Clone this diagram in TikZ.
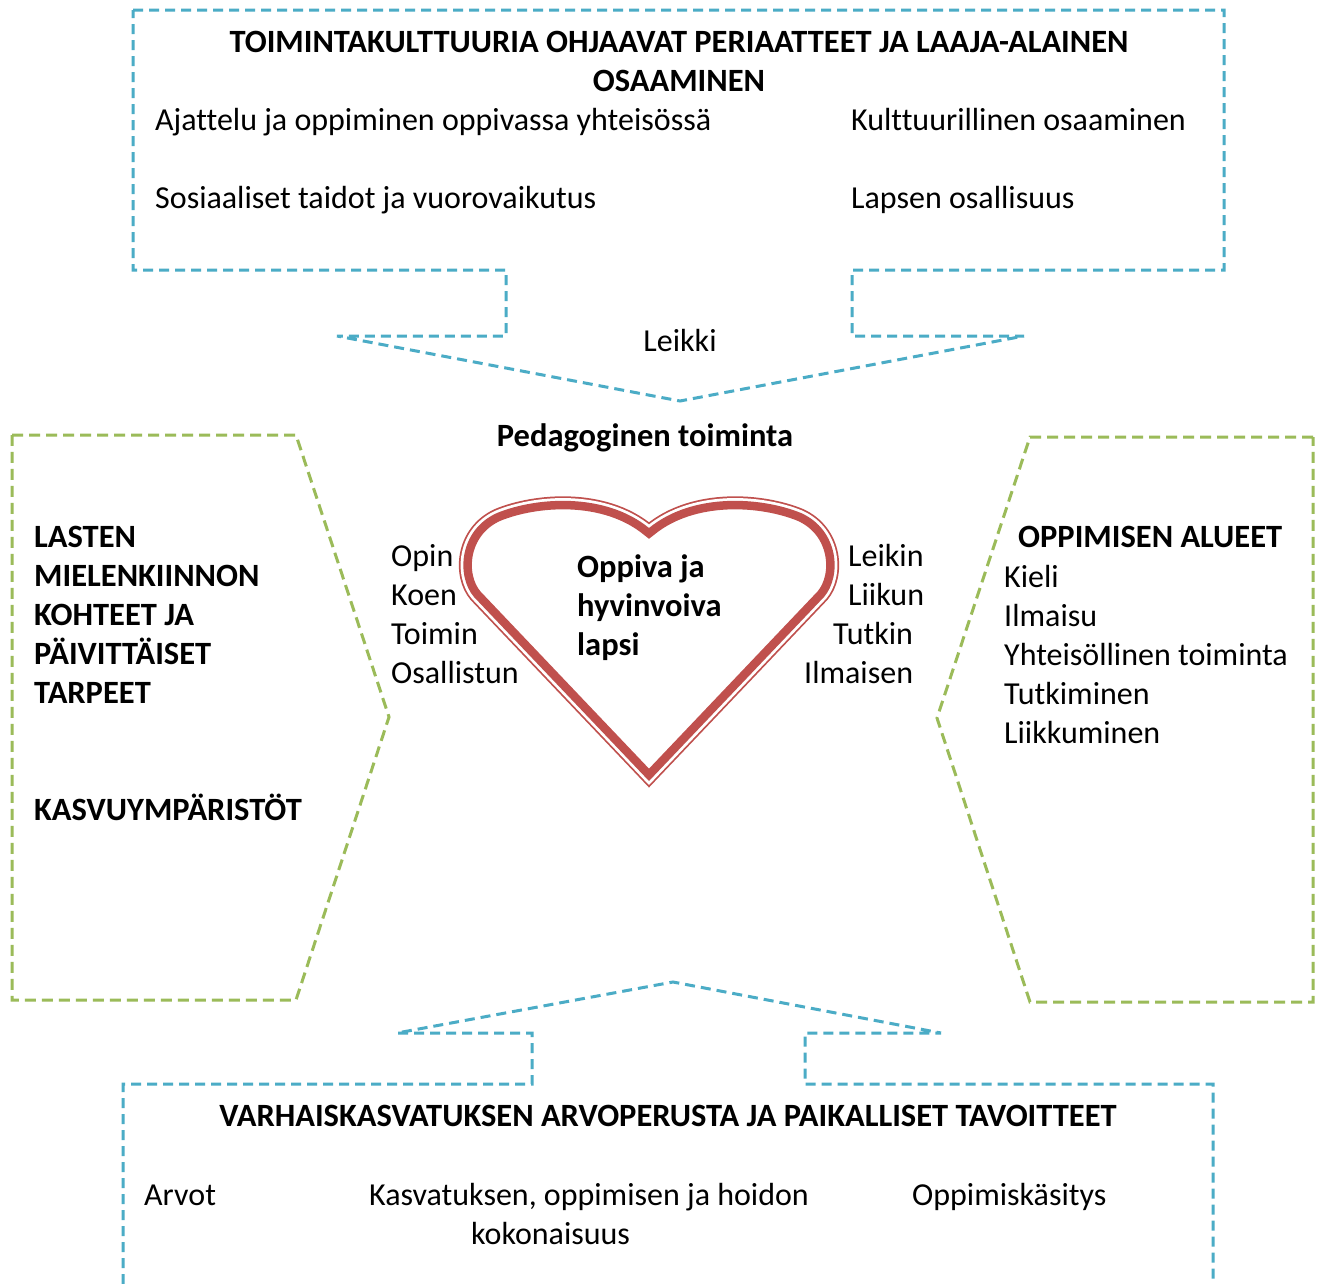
\documentclass[tikz,border=0pt]{standalone}
\usepackage{fontspec}
\setmainfont{Carlito}[Ligatures=NoCommon]
\usepackage{tikz}

\definecolor{aqua}{HTML}{4BACC6}
\definecolor{olive}{HTML}{9BBB59}
\definecolor{heartred}{HTML}{C0504D}

\tikzset{
  bluebox/.style={draw=aqua,line width=3pt,dash pattern=on 10pt off 6pt},
  greenbox/.style={draw=olive,line width=3pt,dash pattern=on 11pt off 6pt},
  txt/.style={anchor=west,text height=21pt,text depth=0pt},
  bold/.style={font=\fontsize{32.5}{39}\selectfont\bfseries}
}

\newcommand{\heartpath}{(649,781) -- (474,597) .. controls (456,576) and (459,530) .. (497,513)
  .. controls (536,497) and (605,492) .. (649,528) .. controls (693,492) and (762,497) .. (801,513)
  .. controls (839,530) and (842,576) .. (824,597) -- cycle}

\begin{document}
\begin{tikzpicture}[x=1pt,y=-1pt,every node/.style={inner sep=0pt,font=\fontsize{32}{39}\selectfont}]
\clip (0,0) rectangle (1317,1283);
\fill[white] (0,0) rectangle (1317,1283);

\draw[bluebox] (133,10) -- (1224,10) -- (1224,270) -- (852,270) -- (852,336) -- (1024,336)
  -- (680,401) -- (337,336) -- (506,336) -- (506,270) -- (133,270) -- cycle;
\draw[bluebox] (123,1300) -- (123,1084) -- (532,1084) -- (532,1033) -- (397,1033) -- (673,982)
  -- (941,1033) -- (805,1033) -- (805,1084) -- (1213,1084) -- (1213,1300);

\draw[greenbox] (12,435) -- (296,435) -- (389,717) -- (296,1000) -- (12,1000) -- cycle;
\draw[greenbox] (1313,437) -- (1030,437) -- (937,718) -- (1030,1002) -- (1313,1002) -- cycle;

% heart
\draw[heartred,line width=9pt,line join=miter] \heartpath;
\draw[white,line width=5.5pt,line join=miter] \heartpath;
\begin{scope}
\clip \heartpath;
\draw[heartred,line width=17pt,line join=miter] \heartpath;
\end{scope}

\node[bold,align=center] (title) at (679,61) {TOIMINTAKULTTUURIA OHJAAVAT PERIAATTEET JA LAAJA-ALAINEN\\OSAAMINEN};
\node[txt] (ajattelu) at (155,120) {Ajattelu ja oppiminen oppivassa yhteisössä};
\node[txt] (kulttuuri) at (851,120) {Kulttuurillinen osaaminen};
\node[txt] (sosiaaliset) at (155,198) {Sosiaaliset taidot ja vuorovaikutus};
\node[txt] (osallisuus) at (851,198) {Lapsen osallisuus};

\node (leikki) at (680,340) {Leikki};
\node[bold] (pedagoginen) at (645,438) {Pedagoginen toiminta};

\node[txt] (opin) at (391,556) {Opin};
\node[txt] (koen) at (391,595) {Koen};
\node[txt] (toimin) at (391,634) {Toimin};
\node[txt] (osallistun) at (391,673) {Osallistun};

\node[txt] (leikin) at (848,556) {Leikin};
\node[txt] (liikun) at (848,595) {Liikun};
\node[txt] (tutkin) at (833,634) {Tutkin};
\node[txt] (ilmaisen) at (804,673) {Ilmaisen};

\node[anchor=west,bold,align=left] (lapsi) at (577,608) {Oppiva ja\\hyvinvoiva\\lapsi};

\node[anchor=west,bold,align=left] (lasten) at (34,615) {LASTEN\\MIELENKIINNON\\KOHTEET JA\\PÄIVITTÄISET\\TARPEET};
\node[txt,bold] (kasvu) at (34,810) {KASVUYMPÄRISTÖT};

\node[txt,bold] (alueet) at (1018,537) {OPPIMISEN ALUEET};
\node[txt] (kieli) at (1004,577) {Kieli};
\node[txt] (ilmaisu) at (1004,616) {Ilmaisu};
\node[txt] (yhteis) at (1004,655) {Yhteisöllinen toiminta};
\node[txt] (tutkiminen) at (1004,694) {Tutkiminen};
\node[txt] (liikkuminen) at (1004,733) {Liikkuminen};

\node[bold] (arvopohja) at (668,1116) {VARHAISKASVATUKSEN ARVOPERUSTA JA PAIKALLISET TAVOITTEET};
\node[txt] (arvot) at (144,1195) {Arvot};
\node[anchor=west,align=left] (kokonaisuus) at (369,1214) {Kasvatuksen, oppimisen ja hoidon\\\hspace*{102pt}kokonaisuus};
\node[txt] (kasitys) at (912,1195) {Oppimiskäsitys};
\end{tikzpicture}
\end{document}
